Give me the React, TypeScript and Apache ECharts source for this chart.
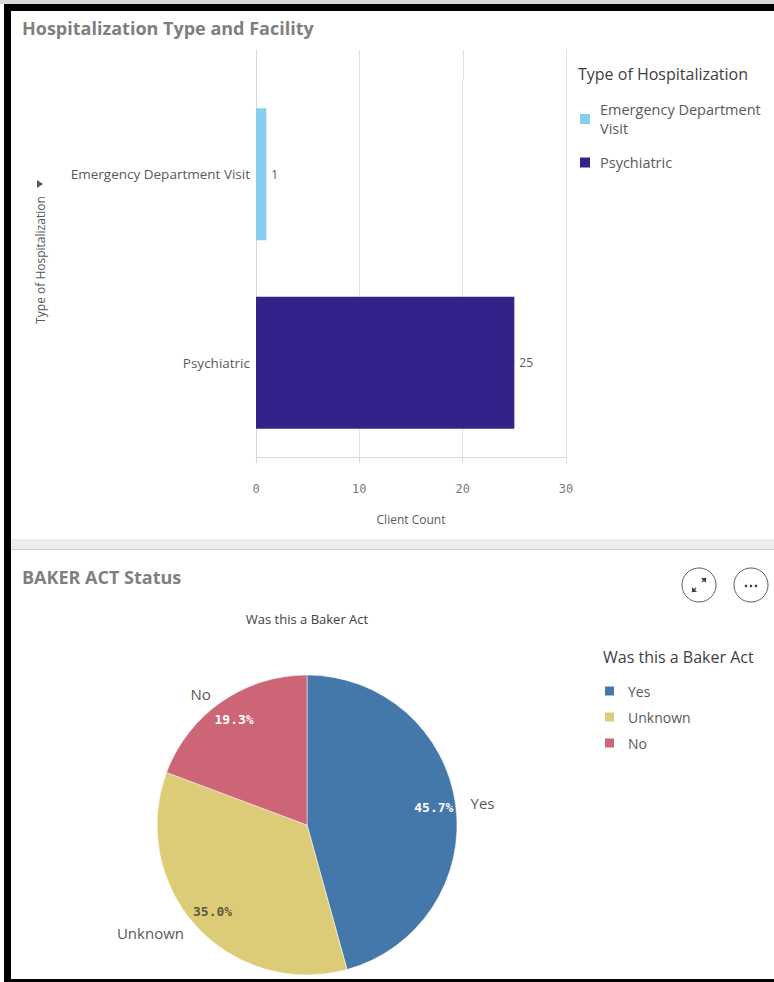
import React, { useEffect, useRef } from "react";
import * as echarts from "echarts";

const hospCategories = ["Emergency Department Visit", "Psychiatric"];
const hospCounts = [1, 25];
const hospColors = ["#88ccee", "#332288"];
const xTickValues = [0, 10, 20, 30];

const bakerNames = ["Yes", "Unknown", "No"];
const bakerValues = [45.7, 35.0, 19.3];
const bakerColors = ["#4477aa", "#ddcc77", "#cc6677"];
const bakerPctColors = ["#ffffff", "#5f5a3a", "#ffffff"];

const FONT = "Open Sans";
const MONO = "DejaVu Sans Mono";

function wrap(name: string): string {
  if (name.length <= 21) return name;
  const i = name.lastIndexOf(" ", 21);
  return name.slice(0, i) + "\n" + name.slice(i + 1);
}

export default function App() {
  const ref = useRef<HTMLDivElement>(null);
  useEffect(() => {
    const chart = echarts.init(ref.current!, null, { renderer: "svg" });
    const option: any = {
      animation: false,
      backgroundColor: "#ffffff",
      textStyle: { fontFamily: FONT },
      grid: { left: 256, right: 208, top: 80, bottom: 525, containLabel: false },
      xAxis: {
        type: "value",
        min: 0,
        max: 30,
        interval: 10,
        name: "Client Count",
        nameLocation: "middle",
        nameGap: 56,
        nameTextStyle: { fontSize: 12, color: "#595959", fontFamily: FONT },
        axisLine: { show: true, lineStyle: { color: "#d9d9d9" } },
        axisTick: { show: true, length: 6, lineStyle: { color: "#d9d9d9" } },
        axisLabel: { margin: 26, fontSize: 12, color: "#7a7a7a", fontFamily: MONO },
        splitLine: { show: true, lineStyle: { color: "#e3e3e3" } },
      },
      yAxis: {
        type: "category",
        inverse: true,
        data: hospCategories,
        axisLine: { show: true, lineStyle: { color: "#d9d9d9" } },
        axisTick: { show: false },
        axisLabel: { margin: 6, fontSize: 13.5, color: "#595959", fontFamily: FONT },
      },
      legend: [
        {
          data: hospCategories,
          orient: "vertical",
          left: 575,
          top: 95,
          icon: "rect",
          itemWidth: 10,
          itemHeight: 10,
          itemGap: 15,
          formatter: (n: string) => wrap(n),
          textStyle: { fontSize: 14.5, color: "#595959", lineHeight: 19, fontFamily: FONT, padding: [0, 0, 0, 5] },
          selectedMode: false,
        },
        {
          data: bakerNames,
          orient: "vertical",
          left: 598,
          top: 678,
          icon: "rect",
          itemWidth: 11,
          itemHeight: 11,
          itemGap: 10,
          textStyle: { fontSize: 14, color: "#595959", lineHeight: 16, fontFamily: FONT, padding: [0, 0, 0, 8] },
          selectedMode: false,
        },
      ],
      series: [
        ...hospCategories.map((c, i) => ({
          type: "bar",
          name: c,
          stack: "total",
          barCategoryGap: "30%",
          data: hospCounts.map((v, j) => (j === i ? v : "-")),
          itemStyle: { color: hospColors[i] },
          label: { show: true, position: "right", distance: 5, fontSize: 12, color: "#595959", fontFamily: FONT },
          emphasis: { disabled: true },
        })),
        {
          type: "pie",
          name: "Was this a Baker Act",
          center: [307, 825],
          radius: 150,
          startAngle: 90,
          clockwise: true,
          data: bakerNames.map((n, i) => ({ name: n, value: bakerValues[i], itemStyle: { color: bakerColors[i] } })),
          itemStyle: { borderColor: "#ffffff", borderWidth: 0.5 },
          label: { show: true, position: "outside", formatter: "{b}", fontSize: 15, color: "#595959", fontFamily: FONT },
          labelLine: { show: false, length: 10, length2: 0 },
          avoidLabelOverlap: false,
          emphasis: { disabled: true },
        },
        {
          type: "pie",
          name: "pct",
          center: [307, 825],
          radius: [110, 140],
          startAngle: 90,
          clockwise: true,
          silent: true,
          data: bakerNames.map((n, i) => ({
            name: n,
            value: bakerValues[i],
            itemStyle: { color: "rgba(0,0,0,0)" },
            label: { color: bakerPctColors[i] },
          })),
          label: {
            show: true,
            position: "inside",
            formatter: (p: any) => Number(p.value).toFixed(1) + "%",
            fontSize: 13,
            fontWeight: "bold",
            fontFamily: MONO,
          },
          labelLine: { show: false },
          emphasis: { disabled: true },
        },
      ],
    };
    chart.setOption(option);

    const gridTop = 80;
    const extLines = xTickValues.map((v) => {
      const x = Math.round(chart.convertToPixel({ xAxisIndex: 0 }, v) as number) + 0.5;
      return {
        type: "line",
        shape: { x1: x, y1: 50, x2: x, y2: gridTop },
        style: { stroke: v === 0 ? "#d9d9d9" : "#e3e3e3", lineWidth: 1 },
        silent: true,
      };
    });

    chart.setOption({
      graphic: [
        ...extLines,
        { type: "rect", shape: { x: 0, y: 0, width: 774, height: 4 }, style: { fill: "#d8d8d8" } },
        { type: "rect", shape: { x: 4, y: 4, width: 770, height: 7 }, style: { fill: "#000000" } },
        { type: "rect", shape: { x: 4, y: 4, width: 7, height: 978 }, style: { fill: "#000000" } },
        { type: "rect", shape: { x: 4, y: 979, width: 770, height: 3 }, style: { fill: "#000000" } },
        { type: "rect", shape: { x: 11, y: 539, width: 763, height: 11 }, style: { fill: "#ededed" } },
        { type: "line", shape: { x1: 11, y1: 549.5, x2: 774, y2: 549.5 }, style: { stroke: "#d0d0d0", lineWidth: 1 } },
        {
          type: "text",
          x: 22,
          y: 28,
          style: { text: "Hospitalization Type and Facility", fontSize: 18, fontWeight: "bold", fill: "#7f7f7f", fontFamily: FONT, textVerticalAlign: "middle" },
        },
        {
          type: "text",
          x: 578,
          y: 74,
          style: { text: "Type of Hospitalization", fontSize: 16, fill: "#404040", fontFamily: FONT, textVerticalAlign: "middle" },
        },
        {
          type: "text",
          x: 40,
          y: 260,
          rotation: Math.PI / 2,
          style: { text: "Type of Hospitalization", fontSize: 12, fill: "#595959", fontFamily: FONT, textAlign: "center", textVerticalAlign: "middle" },
        },
        {
          type: "polygon",
          shape: { points: [[37, 180], [37, 188], [43, 184]] },
          style: { fill: "#595959" },
        },
        {
          type: "text",
          x: 22,
          y: 577,
          style: { text: "BAKER ACT Status", fontSize: 18, fontWeight: "bold", fill: "#7f7f7f", fontFamily: FONT, textVerticalAlign: "middle" },
        },
        {
          type: "text",
          x: 307,
          y: 619,
          style: { text: "Was this a Baker Act", fontSize: 13, fill: "#404040", fontFamily: FONT, textAlign: "center", textVerticalAlign: "middle" },
        },
        {
          type: "text",
          x: 603,
          y: 657,
          style: { text: "Was this a Baker Act", fontSize: 16, fill: "#404040", fontFamily: FONT, textVerticalAlign: "middle" },
        },
        { type: "circle", shape: { cx: 699, cy: 585, r: 17 }, style: { fill: "#ffffff", stroke: "#595959", lineWidth: 1 } },
        { type: "circle", shape: { cx: 751, cy: 585, r: 17 }, style: { fill: "#ffffff", stroke: "#595959", lineWidth: 1 } },
        { type: "polygon", shape: { points: [[701, 578], [706, 578], [706, 583]] }, style: { fill: "#404040" } },
        { type: "line", shape: { x1: 706, y1: 578, x2: 702, y2: 582 }, style: { stroke: "#404040", lineWidth: 1.2 } },
        { type: "polygon", shape: { points: [[692, 587], [692, 592], [697, 592]] }, style: { fill: "#404040" } },
        { type: "line", shape: { x1: 692, y1: 592, x2: 696, y2: 588 }, style: { stroke: "#404040", lineWidth: 1.2 } },
        { type: "circle", shape: { cx: 746, cy: 586, r: 1.3 }, style: { fill: "#404040" } },
        { type: "circle", shape: { cx: 751, cy: 586, r: 1.3 }, style: { fill: "#404040" } },
        { type: "circle", shape: { cx: 756, cy: 586, r: 1.3 }, style: { fill: "#404040" } },
      ],
    });
    return () => chart.dispose();
  }, []);
  return (
    <div
      ref={ref}
      style={{ position: "absolute", left: 0, top: 0, width: 774, height: 982 }}
    />
  );
}
